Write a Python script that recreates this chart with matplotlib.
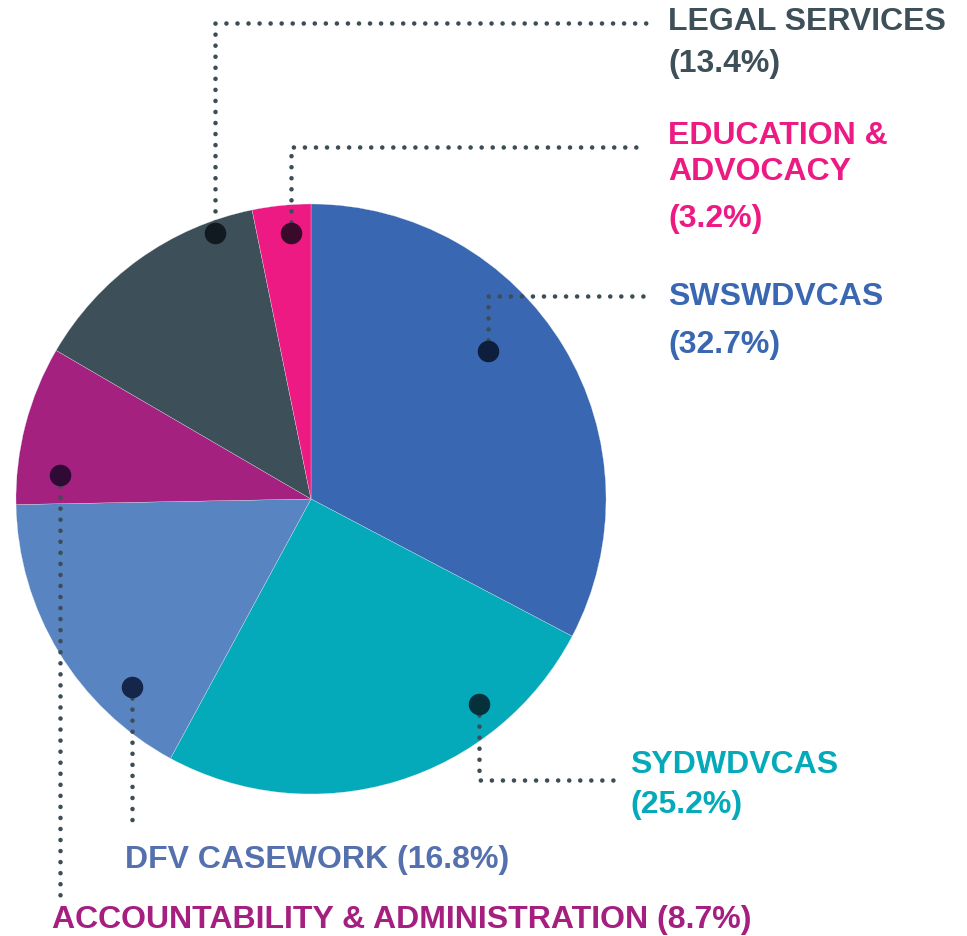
import matplotlib.pyplot as plt

# Budget breakdown (percent), drawn clockwise from 12 o'clock
categories = ['SWSWDVCAS', 'SYDWDVCAS', 'DFV CASEWORK', 'ACCOUNTABILITY & ADMINISTRATION',
              'LEGAL SERVICES', 'EDUCATION & ADVOCACY']
values = [32.7, 25.2, 16.8, 8.7, 13.4, 3.2]
colors = ['#3a67b1', '#04aab9', '#5885c2', '#a5217f', '#3d4f58', '#ec1a82']
dot_colors = ['#0e1f3d', '#05313a', '#14264a', '#2e0a35', '#111a20', '#3a0a2a']

W, H = 967, 937
fig = plt.figure(figsize=(W / 100, H / 100), dpi=100)
ax = fig.add_axes([0, 0, 1, 1])

# y axis is inverted (pixel-like coords), so counterclock=True draws clockwise on screen
ax.pie(values, colors=colors, startangle=-90, counterclock=True,
       center=(311, 500), radius=295,
       wedgeprops=dict(edgecolor='#e8ecf4', linewidth=0.2))
ax.set_xlim(0, W)
ax.set_ylim(H, 0)
ax.set_aspect('auto')
ax.axis('off')

line_kw = dict(color='#3d4d55', linewidth=3.3, linestyle=(0, (0.01, 2.4)),
               dash_capstyle='round', zorder=3)

# leader paths: dot position, then corner, then end
leaders = [
    [(488, 352), (488, 297), (648, 297)],   # SWSWDVCAS
    [(479, 705), (479, 781), (617, 781)],   # SYDWDVCAS
    [(132, 688), (132, 830)],               # DFV
    [(60, 476), (60, 897)],                 # ACCOUNTABILITY
    [(215, 234), (215, 24), (655, 24)],     # LEGAL
    [(291, 234), (291, 148), (645, 148)],   # EDUCATION
]
for pts, dc in zip(leaders, dot_colors):
    xs = [p[0] for p in pts]
    ys = [p[1] for p in pts]
    ax.plot(xs, ys, **line_kw)
    ax.plot(xs[0], ys[0], 'o', color=dc, markersize=14.5, zorder=4)

bold = dict(fontfamily=['Liberation Sans', 'DejaVu Sans'], fontweight='bold',
            fontsize=23, va='center', ha='left')
pct = ['(%.1f%%)' % v for v in values]

ax.text(668, 22, 'LEGAL SERVICES', color=colors[4], **bold)
ax.text(668, 64, pct[4], color=colors[4], **bold)
ax.text(668, 136, 'EDUCATION &', color=colors[5], **bold)
ax.text(668, 172, 'ADVOCACY', color=colors[5], **bold)
ax.text(668, 219, pct[5], color=colors[5], **bold)
ax.text(668, 297, categories[0], color=colors[0], **bold)
ax.text(668, 345, pct[0], color=colors[0], **bold)
ax.text(630, 765, categories[1], color=colors[1], **bold)
ax.text(630, 805, pct[1], color=colors[1], **bold)

cond = dict(fontfamily=['Liberation Sans', 'DejaVu Sans'], fontweight='bold',
            fontsize=23, va='center', ha='left')
ax.text(125, 860, categories[2] + ' ' + pct[2], color='#5470ae', **cond)
ax.text(52, 920, categories[3] + ' ' + pct[3], color='#a41f80', **cond)

fig.savefig('out.png', dpi=100)
